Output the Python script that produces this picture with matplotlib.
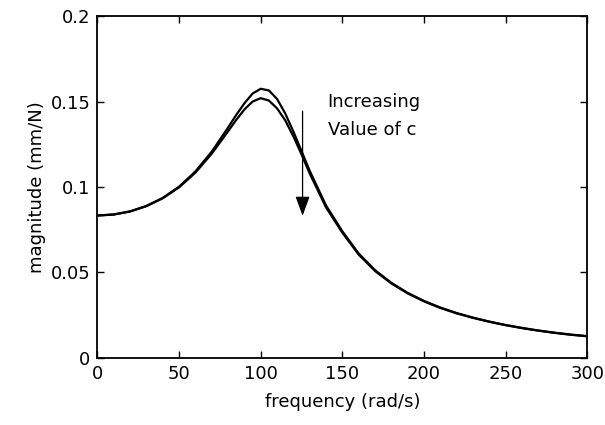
import numpy as np
import matplotlib
matplotlib.use("Agg")
import matplotlib.pyplot as plt

plt.rcParams['font.family'] = ['DejaVu Sans']

# frequency points (rad/s)
freq = [0, 10, 20, 30, 40, 50, 60, 70, 80, 85, 90, 95, 100, 105, 110, 115,
        120, 125, 130, 140, 150, 160, 170, 180, 190, 200, 210, 220, 230, 240,
        250, 260, 270, 280, 290, 300]

# magnitude, lower damping (higher peak)
mag_low_c = [0.0833, 0.0839, 0.0857, 0.0889, 0.0936, 0.1002, 0.1091, 0.1207,
             0.1348, 0.1422, 0.1490, 0.1547, 0.1575, 0.1565, 0.1515, 0.1430,
             0.1324, 0.1209, 0.1094, 0.0891, 0.0740, 0.0610, 0.0513, 0.0439,
             0.0380, 0.0333, 0.0294, 0.0262, 0.0235, 0.0212, 0.0192, 0.0175,
             0.0160, 0.0147, 0.0136, 0.0127]

# magnitude, higher damping (lower peak)
mag_high_c = [0.0833, 0.0839, 0.0857, 0.0888, 0.0934, 0.0998, 0.1084, 0.1195,
              0.1326, 0.1393, 0.1454, 0.1500, 0.1520, 0.1506, 0.1460, 0.1390,
              0.1296, 0.1190, 0.1078, 0.0880, 0.0732, 0.0604, 0.0508, 0.0435,
              0.0377, 0.0330, 0.0292, 0.0260, 0.0234, 0.0211, 0.0191, 0.0174,
              0.0159, 0.0146, 0.0135, 0.0126]

fig = plt.figure(figsize=(6.05, 4.25), dpi=100)
ax = fig.add_axes([0.161, 0.158, 0.81, 0.804])

ax.plot(freq, mag_low_c, color='black', lw=1.6)
ax.plot(freq, mag_high_c, color='black', lw=1.6)

# arrow showing increasing damping
ax.annotate('', xy=(125.6, 0.0815), xytext=(125.6, 0.146),
            arrowprops=dict(arrowstyle='-|>,head_length=0.6,head_width=0.22',
                            color='black', lw=0.9, mutation_scale=20))
ax.text(141, 0.1468, 'Increasing', fontsize=13)
ax.text(141, 0.1303, 'Value of c', fontsize=13)

ax.set_xlim(0, 300)
ax.set_ylim(0, 0.2)
ax.set_xticks([0, 50, 100, 150, 200, 250, 300])
ax.set_yticks([0, 0.05, 0.1, 0.15, 0.2])
ax.set_yticklabels(['0', '0.05', '0.1', '0.15', '0.2'])
ax.tick_params(direction='in', top=True, right=True, length=5, width=1,
               labelsize=13, pad=5)
for s in ax.spines.values():
    s.set_linewidth(1.3)

ax.set_xlabel('frequency (rad/s)', fontsize=13, labelpad=7)
ax.set_ylabel('magnitude (mm/N)', fontsize=13, labelpad=3)

fig.savefig('out.png', dpi=100)
